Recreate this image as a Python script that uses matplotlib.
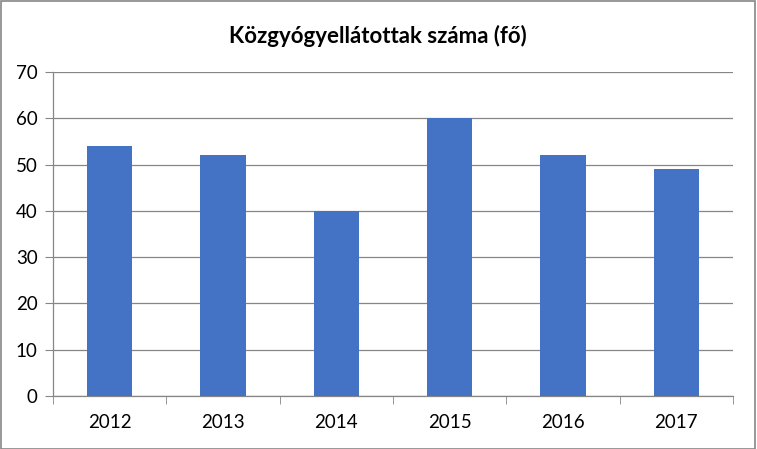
import matplotlib
matplotlib.use("Agg")
import matplotlib.pyplot as plt
from matplotlib.patches import Rectangle

years = ["2012", "2013", "2014", "2015", "2016", "2017"]
values = [54, 52, 40, 60, 52, 49]
title = "Közgyógyellátottak száma (fő)"

plt.rcParams['font.family'] = ['Lato', 'DejaVu Sans']

fig = plt.figure(figsize=(7.57, 4.49), dpi=100)
ax = fig.add_axes([53/757, 1-396/449, (733-53)/757, (396-72)/449])

x = list(range(len(years)))
ax.bar(x, values, width=0.4, color="#4472C4", zorder=3)
ax.set_xlim(-0.5, len(years)-0.5)
ax.set_ylim(0, 70)
ax.set_yticks(range(0, 71, 10))
ax.set_xticks(x)
ax.set_xticklabels(years)
ax.set_xticks([i + 0.5 for i in range(-1, len(years))], minor=True)
ax.tick_params(axis='x', which='major', length=0, pad=13, labelsize=13.5)
ax.tick_params(axis='x', which='minor', length=6, color="#868686", direction='out')
ax.tick_params(axis='y', length=6, color="#868686", pad=5, labelsize=13.5)
ax.grid(axis='y', color="#868686", linewidth=0.9, zorder=0)
for s in ['top', 'right']:
    ax.spines[s].set_visible(False)
for s in ['left', 'bottom']:
    ax.spines[s].set_color("#868686")
    ax.spines[s].set_linewidth(0.9)

fig.text(378/757, 1-36/449, title, ha='center', va='center', fontsize=16, fontweight='bold')
fig.patches.append(Rectangle((0.001, 0.001), 0.997, 0.996, transform=fig.transFigure,
                             fill=False, edgecolor="#868686", linewidth=1.2))
fig.savefig("out.png", dpi=100)
